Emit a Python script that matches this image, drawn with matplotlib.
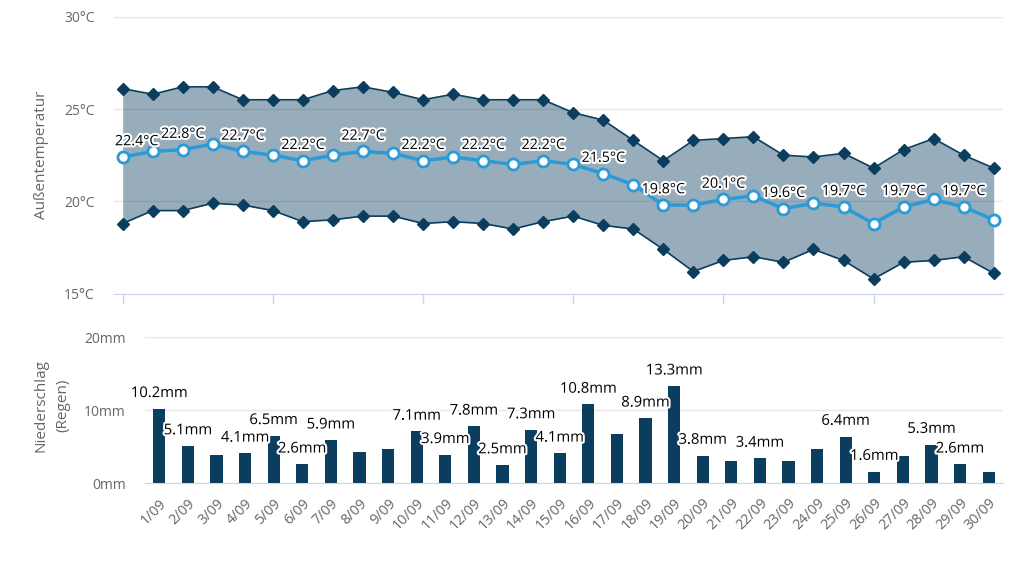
import matplotlib.pyplot as plt
import matplotlib.patheffects as pe
import numpy as np

plt.rcParams['font.family'] = ['Open Sans', 'DejaVu Sans']

# Daten
tage = ['1/09', '2/09', '3/09', '4/09', '5/09', '6/09', '7/09', '8/09', '9/09', '10/09',
        '11/09', '12/09', '13/09', '14/09', '15/09', '16/09', '17/09', '18/09', '19/09', '20/09',
        '21/09', '22/09', '23/09', '24/09', '25/09', '26/09', '27/09', '28/09', '29/09', '30/09']
temp_max = [26.1, 25.8, 26.2, 26.2, 25.5, 25.5, 25.5, 26.0, 26.2, 25.9,
            25.5, 25.8, 25.5, 25.5, 25.5, 24.8, 24.4, 23.3, 22.2, 23.3,
            23.4, 23.5, 22.5, 22.4, 22.6, 21.8, 22.8, 23.4, 22.5, 21.8]
temp_min = [18.8, 19.5, 19.5, 19.9, 19.8, 19.5, 18.9, 19.0, 19.2, 19.2,
            18.8, 18.9, 18.8, 18.5, 18.9, 19.2, 18.7, 18.5, 17.4, 16.2,
            16.8, 17.0, 16.7, 17.4, 16.8, 15.8, 16.7, 16.8, 17.0, 16.1]
temp_mittel = [22.4, 22.7, 22.8, 23.1, 22.7, 22.5, 22.2, 22.5, 22.7, 22.6,
               22.2, 22.4, 22.2, 22.0, 22.2, 22.0, 21.5, 20.9, 19.8, 19.8,
               20.1, 20.3, 19.6, 19.9, 19.7, 18.8, 19.7, 20.1, 19.7, 19.0]
regen = [10.2, 5.1, 3.9, 4.1, 6.5, 2.6, 5.9, 4.3, 4.7, 7.1,
         3.9, 7.8, 2.5, 7.3, 4.1, 10.8, 6.8, 8.9, 13.3, 3.8,
         3.1, 3.4, 3.1, 4.7, 6.4, 1.6, 3.8, 5.3, 2.6, 1.6]
# Tage, an denen eine Beschriftung sichtbar ist
temp_beschriftet = ['1/09', '3/09', '5/09', '7/09', '9/09', '11/09', '13/09', '15/09',
                    '17/09', '19/09', '21/09', '23/09', '25/09', '27/09', '29/09']
regen_beschriftet = ['1/09', '2/09', '4/09', '5/09', '6/09', '7/09', '10/09', '11/09',
                     '12/09', '13/09', '14/09', '15/09', '16/09', '18/09', '19/09',
                     '20/09', '22/09', '25/09', '26/09', '28/09', '29/09']

navy = '#0B3D5E'
blau = '#2A9BD6'
grau = '#666666'
gitter = '#E6E6E6'
achse = '#CCD6EB'
halo = [pe.withStroke(linewidth=3, foreground='white')]

fig = plt.figure(figsize=(10.24, 5.61), dpi=100)
x = np.arange(len(tage))

# --- Temperatur ---
ax1 = fig.add_axes([0.1113, 0.4765, 0.8682, 0.4938])
ax1.fill_between(x, temp_min, temp_max, color=navy, alpha=0.42, lw=0, zorder=2)
ax1.plot(x, temp_max, color=navy, lw=1.2, marker='D', ms=6, zorder=3)
ax1.plot(x, temp_min, color=navy, lw=1.2, marker='D', ms=6, zorder=3)
ax1.plot(x, temp_mittel, color=blau, lw=2.5, marker='o', ms=8, mfc='white',
         mec=blau, mew=2, zorder=4)
for i, t in enumerate(tage):
    if t in temp_beschriftet:
        dx = 10 if i == 0 else 0
        ax1.annotate(f'{temp_mittel[i]:.1f}°C', (x[i], temp_mittel[i]), xytext=(dx, 11),
                     textcoords='offset points', ha='center', va='center',
                     fontsize=10.3, color='black', path_effects=halo, zorder=5)

ax1.set_xlim(-0.29, 29.31)
ax1.set_ylim(15, 30)
ax1.set_yticks([15, 20, 25, 30])
ax1.set_yticklabels(['15°C', '20°C', '25°C', '30°C'])
ax1.set_xticks([0, 5, 10, 15, 20, 25])
ax1.set_xticklabels([])
ax1.yaxis.grid(True, color=gitter, lw=1)
ax1.set_axisbelow(True)
for s in ['top', 'right', 'left']:
    ax1.spines[s].set_visible(False)
ax1.spines['bottom'].set_color(achse)
ax1.tick_params(axis='x', length=7, color=achse, width=1)
ax1.tick_params(axis='y', length=0, pad=14, labelcolor=grau, labelsize=10)
fig.text(0.041, 0.7234, 'Außentemperatur', rotation=90, ha='center', va='center',
         color=grau, fontsize=11)

# --- Niederschlag ---
ax2 = fig.add_axes([0.1416, 0.1385, 0.8379, 0.2602])
ax2.bar(x, regen, width=0.43, color=navy, zorder=2)
for i, t in enumerate(tage):
    if t in regen_beschriftet:
        ax2.annotate(f'{regen[i]:.1f}mm', (x[i], regen[i]), xytext=(0, 11),
                     textcoords='offset points', ha='center', va='center',
                     fontsize=10.7, color='black', path_effects=halo, zorder=5)

ax2.set_xlim(-0.5, 29.5)
ax2.set_ylim(0, 20)
ax2.set_yticks([0, 10, 20])
ax2.set_yticklabels(['0mm', '10mm', '20mm'])
ax2.set_xticks(x)
ax2.set_xticklabels(tage, rotation=45, ha='right', va='top', rotation_mode='anchor')
ax2.yaxis.grid(True, color=gitter, lw=1)
ax2.set_axisbelow(True)
for s in ['top', 'right', 'left']:
    ax2.spines[s].set_visible(False)
ax2.spines['bottom'].set_color(achse)
ax2.tick_params(axis='x', length=0, pad=9, labelcolor=grau, labelsize=10.3)
ax2.tick_params(axis='y', length=0, pad=14, labelcolor=grau, labelsize=10)
fig.text(0.051, 0.278, 'Niederschlag\n(Regen)', rotation=90, ha='center', va='center',
         multialignment='center', color=grau, fontsize=11, linespacing=1.6)

fig.savefig('out.png', dpi=100)
